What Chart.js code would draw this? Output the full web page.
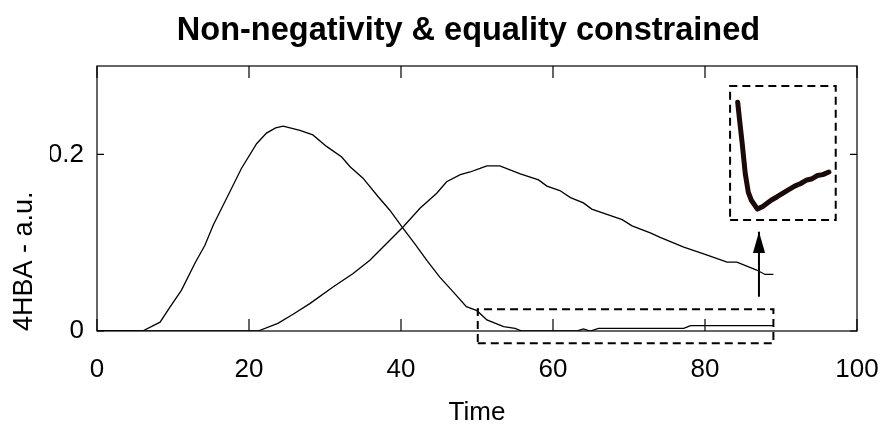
<!DOCTYPE html>
<html>
<head>
<meta charset="utf-8">
<script src="https://cdn.jsdelivr.net/npm/chart.js@4/dist/chart.umd.min.js"></script>
<style>
  html, body { margin: 0; padding: 0; background: #fff; }
  #wrap { width: 887px; height: 430px; }
</style>
</head>
<body>
<div id="wrap"><canvas id="c" width="887" height="430"></canvas></div>
<script>
// First component (early peak)
const time1 = [0, 6, 8.3, 9.6, 11.1, 12.9, 14.2, 15.3, 17.5, 19.0, 21.0, 22.3, 23.5, 24.5, 26.7, 28.4, 30.2,
  32.2, 33.3, 35.0, 37.0, 38.5, 40.3, 41.8, 43.4, 45.1, 46.9, 48.6, 50.0, 51.3, 53.5, 55.0, 55.9,
  63.1, 64.0, 64.9, 66.0, 77.2, 78.1, 89.0];
const conc1 = [0, 0, 0.010, 0.027, 0.046, 0.077, 0.097, 0.120, 0.158, 0.184, 0.212, 0.224, 0.230, 0.232, 0.227, 0.222, 0.209,
  0.197, 0.186, 0.173, 0.152, 0.137, 0.116, 0.099, 0.080, 0.061, 0.044, 0.0275, 0.023, 0.0125, 0.005, 0.003, 0,
  0, 0.0023, 0, 0.003, 0.003, 0.006, 0.006];

// Second component (later peak)
const time2 = [0, 21.2, 23.8, 25.8, 28.0, 31.1, 33.7, 35.9, 38.1, 40.3, 42.5, 44.7, 46.0, 47.8, 49.1, 50.4,
  51.3, 53.0, 55.7, 58.1, 59.2, 60.9, 62.3, 64.0, 65.1, 67.1, 69.1, 70.4, 72.8, 74.1, 77.2, 80.3,
  82.9, 84.2, 86.8, 87.9, 89.0];
const conc2 = [0, 0, 0.0087, 0.019, 0.031, 0.050, 0.065, 0.080, 0.099, 0.118, 0.139, 0.156, 0.169, 0.177, 0.180, 0.184,
  0.187, 0.187, 0.178, 0.171, 0.164, 0.159, 0.151, 0.145, 0.138, 0.132, 0.126, 0.119, 0.111, 0.106, 0.095, 0.086,
  0.078, 0.078, 0.069, 0.064, 0.064];

// Magnified tail of the first component, placed in the upper right corner
const insetTime = [84.3, 84.6, 84.9, 85.3, 85.7, 86.1, 86.9, 87.6, 88.7, 89.5, 90.8, 91.8, 92.6, 93.4, 94.0, 94.8, 95.5, 96.3];
const insetConc = [0.259, 0.235, 0.212, 0.178, 0.157, 0.148, 0.138, 0.141, 0.148, 0.152, 0.159, 0.164, 0.167, 0.171, 0.172, 0.176, 0.177, 0.180];

// Dashed frames: [xMin, xMax, yMin, yMax]
const tailBox = [50.1, 89.0, -0.0139, 0.0246];
const insetBox = [83.3, 97.2, 0.1256, 0.2773];

// Arrow from the tail frame to the magnified view: [x, yStart, yEnd]
const arrow = [87.1, 0.0388, 0.1124];

const xTicks = [0, 20, 40, 60, 80, 100];
const yTicks = [0, 0.2];

const pts = (xs, ys) => xs.map((x, i) => ({ x, y: ys[i] }));
const rect = b => [
  { x: b[0], y: b[2] }, { x: b[1], y: b[2] }, { x: b[1], y: b[3] }, { x: b[0], y: b[3] }, { x: b[0], y: b[2] }
];

// Arrow head sprite: tip at the centre, body below it
const head = document.createElement('canvas');
head.width = 12; head.height = 42;
(function () {
  const g = head.getContext('2d');
  g.fillStyle = '#000';
  g.beginPath();
  g.moveTo(6, 21); g.lineTo(12, 42); g.lineTo(0, 42); g.closePath();
  g.fill();
})();

const FONT = "'Liberation Sans', Arial, sans-serif";

// Box frame with inward tick marks on all four sides
const frame = {
  id: 'frame',
  afterDraw(chart) {
    const { ctx, chartArea: a, scales: { x, y } } = chart;
    ctx.save();
    ctx.strokeStyle = '#000';
    ctx.lineWidth = 1.2;
    ctx.strokeRect(a.left, a.top, a.right - a.left, a.bottom - a.top);
    ctx.beginPath();
    xTicks.forEach(v => {
      const p = x.getPixelForValue(v);
      ctx.moveTo(p, a.bottom); ctx.lineTo(p, a.bottom - 12);
      ctx.moveTo(p, a.top); ctx.lineTo(p, a.top + 12);
    });
    yTicks.forEach(v => {
      const p = y.getPixelForValue(v);
      ctx.moveTo(a.left, p); ctx.lineTo(a.left + 7, p);
      ctx.moveTo(a.right, p); ctx.lineTo(a.right - 7, p);
    });
    ctx.stroke();
    ctx.restore();
  }
};

const lineDefaults = { showLine: true, pointRadius: 0, tension: 0, fill: false };

new Chart(document.getElementById('c'), {
  type: 'scatter',
  data: {
    datasets: [
      { ...lineDefaults, label: 'Component 1', data: pts(time1, conc1), borderColor: '#000', borderWidth: 1.3 },
      { ...lineDefaults, label: 'Component 2', data: pts(time2, conc2), borderColor: '#000', borderWidth: 1.3 },
      { ...lineDefaults, label: 'Tail region', data: rect(tailBox), borderColor: '#000', borderWidth: 2,
        borderDash: [8, 5], clip: false },
      { ...lineDefaults, label: 'Magnified frame', data: rect(insetBox), borderColor: '#000', borderWidth: 2,
        borderDash: [8, 5], clip: false },
      { ...lineDefaults, label: 'Magnified tail', data: pts(insetTime, insetConc), borderColor: '#1c0a0a',
        borderWidth: 5, borderCapStyle: 'round', borderJoinStyle: 'round' },
      { ...lineDefaults, label: 'Arrow', data: [{ x: arrow[0], y: arrow[1] }, { x: arrow[0], y: arrow[2] }],
        borderColor: '#000', borderWidth: 2, pointRadius: [0, 5], pointStyle: head, clip: false }
    ]
  },
  options: {
    responsive: false,
    animation: false,
    events: [],
    layout: { autoPadding: false, padding: { left: 50, right: 0, top: 0, bottom: 0 } },
    plugins: {
      legend: { display: false },
      tooltip: { enabled: false },
      title: {
        display: true,
        text: 'Non-negativity & equality constrained',
        color: '#000',
        font: { family: FONT, size: 32.5, weight: 'bold' },
        padding: { top: 12, bottom: 15 }
      }
    },
    scales: {
      x: {
        type: 'linear',
        position: 'bottom',
        min: 0, max: 100,
        afterBuildTicks: s => { s.ticks = xTicks.map(v => ({ value: v })); },
        afterFit: s => { s.height = 99; },
        // invisible tick marks only push the labels down
        grid: { display: true, drawOnChartArea: false, drawTicks: true, tickLength: 20, tickColor: 'rgba(0,0,0,0)' },
        border: { display: false },
        ticks: { color: '#000', font: { family: FONT, size: 26 }, padding: 3 },
        title: { display: true, text: 'Time', color: '#000', font: { family: FONT, size: 26 },
          padding: { top: 0, bottom: 2 } }
      },
      y: {
        type: 'linear',
        position: 'left',
        min: 0, max: 0.3,
        afterBuildTicks: s => { s.ticks = yTicks.map(v => ({ value: v })); },
        afterFit: s => { s.width = 47; },
        grid: { display: false },
        border: { display: false },
        ticks: { color: '#000', font: { family: FONT, size: 26 }, padding: 5 },
        title: { display: true, text: '4HBA - a.u.', color: '#000', align: 'start',
          font: { family: FONT, size: 27 }, padding: { top: -42, bottom: 0 } }
      },
      yRight: {
        type: 'linear',
        position: 'right',
        min: 0, max: 0.3,
        afterFit: s => { s.width = 30; },
        grid: { display: false },
        border: { display: false },
        ticks: { display: false }
      }
    }
  },
  plugins: [frame]
});
</script>
</body>
</html>
